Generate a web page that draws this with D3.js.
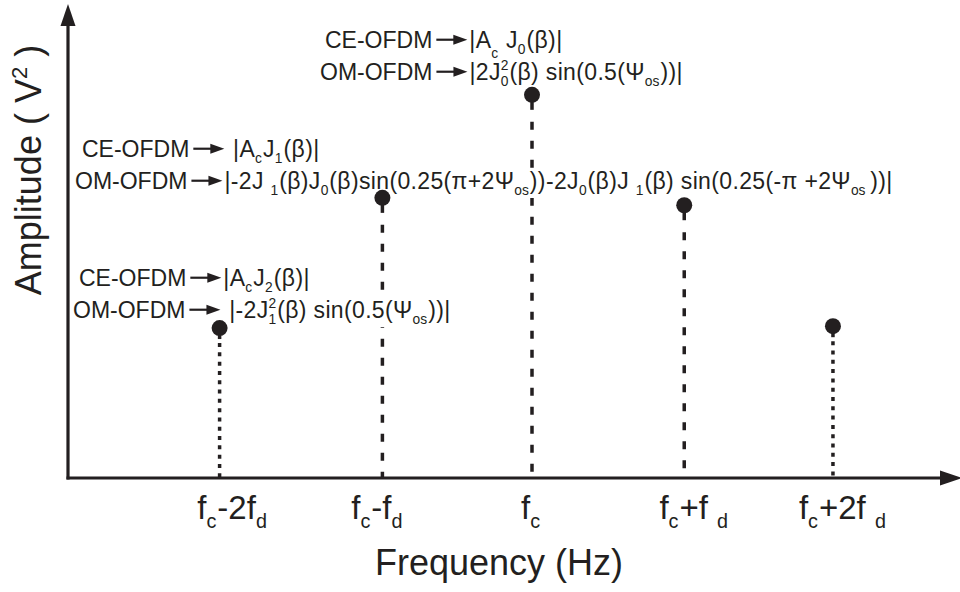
<!DOCTYPE html>
<html lang="en">
<head>
<meta charset="utf-8"/>
<title>OFDM spectrum</title>
<script src="https://cdn.jsdelivr.net/npm/d3@7"></script>
<style>
  body { margin: 0; background: #fff; }
  text { font-family: "Liberation Sans", Arial, sans-serif; fill: #231f20; white-space: pre; }
  .f { letter-spacing: 0.35px; }
</style>
</head>
<body>
<svg id="chart" width="960" height="592"></svg>
<script>
// spectral lines: position on the frequency axis (arbitrary units) and amplitude
const categories = ["fc-2fd", "fc-fd", "fc", "fc+fd", "fc+2fd"];
const freqPos = [1.70, 3.55, 5.25, 6.98, 8.67];
const amplitudes = [3.26, 6.09, 8.33, 5.93, 3.30];
const stemStyles = ["dotted", "dashed", "dashed", "dashed", "dotted"];

// tick labels, as [text, kind] pieces
const tickLabels = [
  [["f"], ["c", "sub"], ["-2f"], ["d", "sub"]],
  [["f"], ["c", "sub"], ["-f"], ["d", "sub"]],
  [["f"], ["c", "sub"]],
  [["f"], ["c", "sub"], ["+f "], ["d", "sub"]],
  [["f"], ["c", "sub"], ["+2f "], ["d", "sub"]]
];

// annotation lines (CE-OFDM / OM-OFDM expressions)
const ceCarrier = [["CE-OFDM"], ["", "arrow"], ["|A"], ["c", "low"], [" J"], ["0", "sub"], ["(β)|"]];
const omCarrier = [["OM-OFDM"], ["", "arrow"], ["|2J"], ["0", "sub", "2"], ["(β) sin(0.5(Ψ"], ["os", "sub"], ["))|"]];
const ceFirst = [["CE-OFDM"], ["", "arrow"], [" |A"], ["c", "sub"], ["J"], ["1", "sub"], ["(β)|"]];
const omFirst = [["OM-OFDM"], ["", "arrow"], ["|-2J "], ["1", "sub"], ["(β)J"], ["0", "sub"], ["(β)sin(0.25(π+2Ψ"], ["os", "sub"],
  ["))-2J"], ["0", "sub"], ["(β)J "], ["1", "sub"], ["(β) sin(0.25(-π +2Ψ"], ["os ", "sub"], ["))|"]];
const ceSecond = [["CE-OFDM"], ["", "arrow"], ["|A"], ["c", "sub"], ["J"], ["2", "sub"], ["(β)|"]];
const omSecond = [["OM-OFDM"], ["", "arrow"], [" |-2J"], ["1", "sub", "2"], ["(β) sin(0.5(Ψ"], ["os", "sub"], ["))|"]];

const svg = d3.select("#chart");
const ink = "#231f20";

const x = d3.scaleLinear().domain([0, 10]).range([70, 950]);
const y = d3.scaleLinear().domain([0, 10]).range([478, 18]);

// draws a run of pieces starting at (x0, y0); returns its width
function rich(g, x0, y0, pieces, fs) {
  let cx = x0;
  pieces.forEach((p, k) => {
    const [t, kind, sup] = p;
    if (kind === "arrow") {
      const ay = y0 - fs * 0.36, a0 = cx + 4, a1 = cx + 35;
      g.append("line").attr("x1", a0).attr("x2", a1 - 8).attr("y1", ay).attr("y2", ay)
        .attr("stroke", ink).attr("stroke-width", 2.2);
      g.append("path").attr("d", `M${a1},${ay}L${a1 - 14},${ay - 5}L${a1 - 14},${ay + 5}Z`).attr("fill", ink);
      cx = a1 + 2;
    } else if (kind === "sub" || kind === "low") {
      const s = g.append("text").attr("x", cx).attr("y", y0 + fs * (kind === "low" ? 0.42 : 0.26))
        .attr("font-size", fs * 0.6).text(t);
      let w = s.node().getComputedTextLength();
      if (sup) {
        const u = g.append("text").attr("x", cx).attr("y", y0 - fs * 0.42)
          .attr("font-size", fs * 0.6).text(sup);
        w = Math.max(w, u.node().getComputedTextLength());
      }
      cx += w + 1;
    } else {
      const s = g.append("text").attr("x", cx).attr("y", y0).attr("font-size", fs).text(t);
      if (g.classed("note") && k > 0) s.attr("class", "f");
      cx += s.node().getComputedTextLength();
    }
  });
  return cx - x0;
}

// stems: short solid neck under the dot, then dashed or dotted down to the axis
const stems = svg.append("g");
categories.forEach((c, i) => {
  const sx = x(freqPos[i]), sy = y(amplitudes[i]);
  const dotted = stemStyles[i] === "dotted";
  stems.append("line").attr("x1", sx).attr("x2", sx).attr("y1", sy).attr("y2", sy + (dotted ? 11 : 15))
    .attr("stroke", ink).attr("stroke-width", 3.5);
  stems.append("line").attr("x1", sx).attr("x2", sx).attr("y1", sy + (dotted ? 15 : 27)).attr("y2", y(0))
    .attr("stroke", ink).attr("stroke-width", 3.5)
    .attr("stroke-dasharray", dotted ? "4,5.3" : "8,11");
});

// annotation blocks, each line on a white backing so stems pass behind
const notes = svg.append("g");
function noteLine(x0, y0, pieces) {
  const bg = notes.append("rect").attr("fill", "#fff");
  const g = notes.append("g").attr("class", "note");
  const w = rich(g, x0, y0, pieces, 23);
  bg.attr("x", x0 - 2).attr("y", y0 - 19).attr("width", w + 4).attr("height", 28);
}
noteLine(325, 48, ceCarrier);
noteLine(320, 80, omCarrier);
noteLine(82, 157, ceFirst);
noteLine(75, 189, omFirst);
noteLine(79, 286, ceSecond);
noteLine(73, 318, omSecond);

// dots
svg.append("g").selectAll("circle").data(categories).join("circle")
  .attr("cx", (d, i) => x(freqPos[i]))
  .attr("cy", (d, i) => y(amplitudes[i]))
  .attr("r", 8).attr("fill", ink);

// axes with arrowheads
const axes = svg.append("g");
axes.append("line").attr("x1", x(0) - 2).attr("x2", x(0) - 2).attr("y1", y(0) + 1.5).attr("y2", 20)
  .attr("stroke", ink).attr("stroke-width", 3.2);
axes.append("path").attr("d", `M${x(0) - 2},4L${x(0) - 9.5},26L${x(0) + 5.5},26Z`).attr("fill", ink);
axes.append("line").attr("x1", x(0) - 3.5).attr("x2", 945).attr("y1", y(0)).attr("y2", y(0))
  .attr("stroke", ink).attr("stroke-width", 3.2);
axes.append("path").attr("d", `M962,${y(0)}L940,${y(0) - 7.5}L940,${y(0) + 7.5}Z`).attr("fill", ink);

// tick labels under each stem
const tickShift = [13, -5, -1, 10, 10];
const ticks = svg.append("g");
tickLabels.forEach((pieces, i) => {
  const g = ticks.append("g");
  const w = rich(g, 0, 519, pieces, 33);
  g.attr("transform", `translate(${x(freqPos[i]) - w / 2 + tickShift[i]},0)`);
});

// axis titles
svg.append("text").attr("x", 499).attr("y", 575).attr("text-anchor", "middle")
  .attr("font-size", 36).text("Frequency (Hz)");
const yt = svg.append("text").attr("transform", "translate(41,170) rotate(-90)")
  .attr("text-anchor", "middle").attr("font-size", 36);
yt.append("tspan").text("Amplitude ( V");
yt.append("tspan").attr("dy", -14).attr("font-size", 22).text("2");
yt.append("tspan").attr("dy", 14).text(" )");
</script>
</body>
</html>
